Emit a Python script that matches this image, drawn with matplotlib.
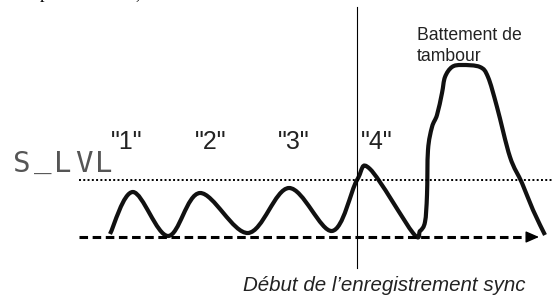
import numpy as np
import matplotlib
matplotlib.use("Agg")
from matplotlib import pyplot as plt
from matplotlib.path import Path
from matplotlib.patches import PathPatch

# signal trace (pixel units, y down)
wave_x = [110, 133, 168, 200, 248, 289, 332, 357, 370, 413, 420, 425, 427, 428,
          432, 437, 442, 445, 452, 462, 480, 488, 497, 510, 522, 533, 545]
wave_y = [234, 192, 236, 193, 233, 188, 231, 180, 169, 233, 231, 222, 195, 150,
          127, 115, 93, 77, 67, 65, 67, 77, 107, 157, 183, 210, 235]

beat_labels = ['"1"', '"2"', '"3"', '"4"']
beat_x = [127, 211, 294, 377]

s_lvl_chars = ["S", "_", "L", "V", "L"]

s_lvl_y = 180
start_y = 237
sync_x = 357

plt.rcParams['font.family'] = ['Liberation Sans', 'DejaVu Sans']
fig = plt.figure(figsize=(5.53, 2.96), dpi=100)
ax = fig.add_axes([0, 0, 1, 1])
ax.set_xlim(0, 553)
ax.set_ylim(296, 0)
ax.axis("off")

# smooth curve through the points (Catmull-Rom -> cubic bezier)
pts = np.column_stack([wave_x, wave_y]).astype(float)
verts = [pts[0]]
codes = [Path.MOVETO]
for i in range(len(pts) - 1):
    p0 = pts[i - 1] if i > 0 else pts[i]
    p1 = pts[i]
    p2 = pts[i + 1]
    p3 = pts[i + 2] if i + 2 < len(pts) else pts[i + 1]
    verts += [p1 + (p2 - p0) / 6, p2 - (p3 - p1) / 6, p2]
    codes += [Path.CURVE4] * 3
ax.add_patch(PathPatch(Path(verts, codes), fill=False, lw=3.0, ec="#111111",
                       capstyle="butt", joinstyle="round"))

# threshold level (dotted) and time axis (dashed arrow)
ax.plot([79, 553], [s_lvl_y, s_lvl_y], color="black", lw=1.4, ls=(0, (1, 1.2)))
ax.plot([79, 530], [start_y, start_y], color="black", lw=2.2, ls=(0, (2.8, 1.5)))
ax.annotate("", xy=(539, start_y), xytext=(527, start_y),
            arrowprops=dict(arrowstyle="-|>,head_length=0.8,head_width=0.35",
                            color="black", lw=1, shrinkA=0, shrinkB=0))

# sync start marker
ax.plot([sync_x, sync_x], [7, 268], color="black", lw=0.8)

for lab, x in zip(beat_labels, beat_x):
    ax.text(x, 149, lab, ha="center", va="baseline", fontsize=18, color="#222222")

# S_LVL in a wide LCD-like look
for i, ch in enumerate(s_lvl_chars):
    y = 168 if ch == "_" else 172
    ax.text(22 + i * 20.5, y, ch, family="DejaVu Sans Mono", fontsize=21,
            color="#555555", va="baseline", ha="center")

ax.text(417, 61, "Battement de\ntambour", fontsize=12.7, color="#222222",
        va="baseline", ha="left", linespacing=1.3)

ax.text(243, 291, "Début de l’enregistrement sync", fontsize=14.8, style="italic",
        color="#222222", va="baseline", ha="left")

# fragments of the cropped line above
ax.text(40, -2, "p", family="Liberation Serif", fontsize=13, va="baseline")
ax.text(135, -2, ",", family="Liberation Serif", fontsize=13, va="baseline")

fig.savefig("out.png", dpi=100)
